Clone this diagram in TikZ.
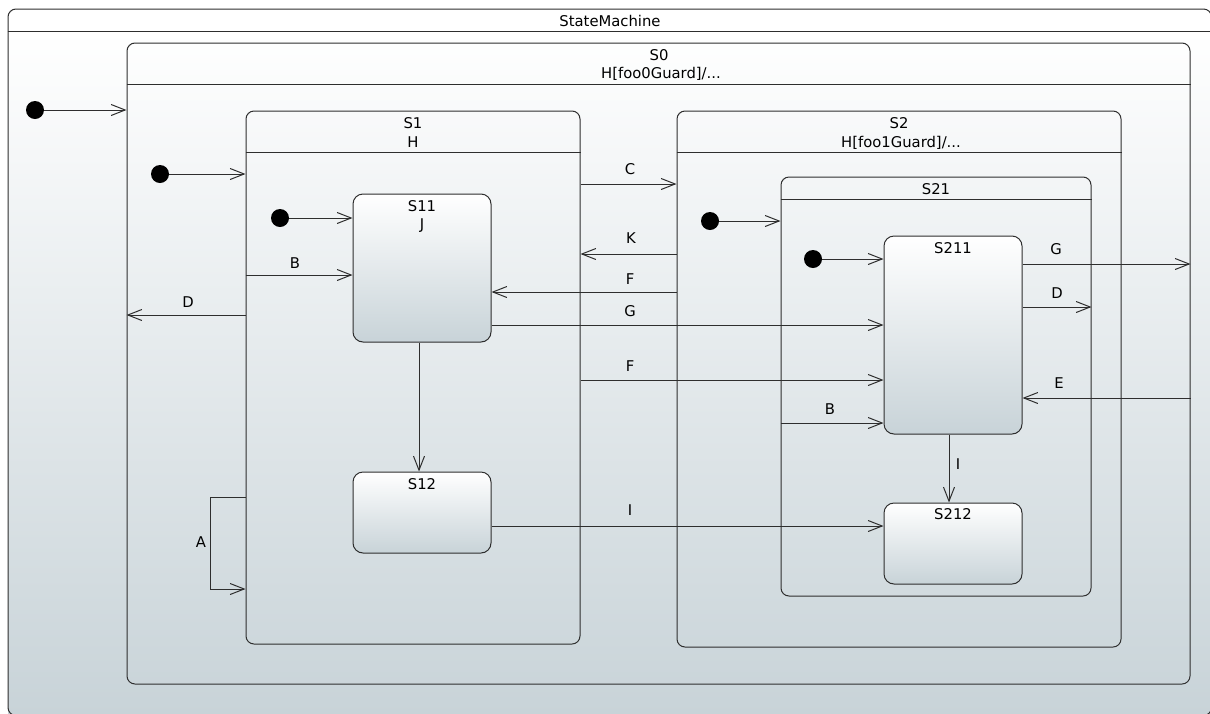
\documentclass[tikz,border=0pt]{standalone}
\usepackage{fontspec}
\setmainfont{DejaVu Sans}
\usetikzlibrary{arrows.meta,fit}
\definecolor{lo}{HTML}{C8D3D8}
\definecolor{ln}{HTML}{2E2E2E}
\tikzset{
  box/.style={draw=ln, line width=1pt, rounded corners=8pt, inner sep=0pt},
  leaf/.style={draw=ln, line width=1pt, rounded corners=10pt, inner sep=0pt, top color=white, bottom color=lo},
  tr/.style={draw=ln, line width=1pt, -{Straight Barb[length=14pt,width=11pt]}},
  plainline/.style={draw=ln, line width=1pt},
  lbl/.style={font=\fontsize{14.8}{17}\selectfont, anchor=base, inner sep=0pt, text=black},
  dot/.style={circle, fill=black, minimum size=18pt, inner sep=0pt},
}
\begin{document}
\begin{tikzpicture}[x=1pt,y=-1pt]
\useasboundingbox (0,0) rectangle (1210,713);
\clip (0,0) rectangle (1210,713);
\fill[white] (0,0) rectangle (1210,713);
\shade[top color=white, bottom color=lo] (8,31) rectangle (1211,715);

% containers
\node[box, fit={(8,9) (1211.5,715.5)}] (sm) {};
\node[box, fit={(127,43) (1190,684)}] (s0) {};
\node[box, fit={(246,111) (580,644)}] (s1) {};
\node[box, fit={(677,111) (1121,647)}] (s2) {};
\node[box, fit={(781,177) (1091,596)}] (s21) {};

% header lines
\coordinate (hsm) at (0,31);
\coordinate (h0) at (0,84);
\coordinate (h1) at (0,152);
\coordinate (h21) at (0,199);
\draw[plainline] (sm.west |- hsm) -- (sm.east |- hsm);
\draw[plainline] (s0.west |- h0) -- (s0.east |- h0);
\draw[plainline] (s1.west |- h1) -- (s1.east |- h1);
\draw[plainline] (s2.west |- h1) -- (s2.east |- h1);
\draw[plainline] (s21.west |- h21) -- (s21.east |- h21);

% leaf states
\node[leaf, fit={(353,194) (491,342)}] (s11) {};
\node[leaf, fit={(353,472) (491,553)}] (s12) {};
\node[leaf, fit={(884,236) (1022,434)}] (s211) {};
\node[leaf, fit={(884,503) (1022,584)}] (s212) {};

% initial pseudostates
\node[dot] (i0) at (35,110) {};
\node[dot] (i1) at (160,174) {};
\node[dot] (i11) at (280,218) {};
\node[dot] (i2) at (710,221) {};
\node[dot] (i21) at (813,259) {};

\draw[tr] (i0) -- (i0 -| s0.west);
\draw[tr] (i1) -- (i1 -| s1.west);
\draw[tr] (i11) -- (i11 -| s11.west);
\draw[tr] (i2) -- (i2 -| s21.west);
\draw[tr] (i21) -- (i21 -| s211.west);

% y levels
\coordinate (yB) at (0,275);
\coordinate (yD) at (0,315);
\coordinate (yA1) at (0,497);
\coordinate (yA2) at (0,589);
\coordinate (xI) at (419,0);
\coordinate (yC) at (0,184);
\coordinate (yK) at (0,254);
\coordinate (yF1) at (0,292);
\coordinate (yG1) at (0,325);
\coordinate (yF2) at (0,380);
\coordinate (yI) at (0,526);
\coordinate (yG2) at (0,264);
\coordinate (yD2) at (0,307);
\coordinate (yE) at (0,398);
\coordinate (yB2) at (0,423);
\coordinate (xI2) at (949,0);

% transitions
\draw[tr] (s1.west |- yB) -- (s11.west |- yB);
\draw[tr] (s1.west |- yD) -- (s0.west |- yD);
\draw[tr] (s1.west |- yA1) -- ++(-35,0) |- (s1.west |- yA2);
\draw[tr] (s11.south -| xI) -- (s12.north -| xI);
\draw[tr] (s1.east |- yC) -- (s2.west |- yC);
\draw[tr] (s2.west |- yK) -- (s1.east |- yK);
\draw[tr] (s2.west |- yF1) -- (s11.east |- yF1);
\draw[tr] (s11.east |- yG1) -- (s211.west |- yG1);
\draw[tr] (s1.east |- yF2) -- (s211.west |- yF2);
\draw[tr] (s12.east |- yI) -- (s212.west |- yI);
\draw[tr] (s211.east |- yG2) -- (s0.east |- yG2);
\draw[tr] (s211.east |- yD2) -- (s21.east |- yD2);
\draw[tr] (s0.east |- yE) -- (s211.east |- yE);
\draw[tr] (s21.west |- yB2) -- (s211.west |- yB2);
\draw[tr] (s211.south -| xI2) -- (s212.north -| xI2);

% state texts
\node[lbl] (tsm) at (610,26) {StateMachine};
\node[lbl] (t0a) at (659,60) {S0};
\node[lbl] (t0b) at (661,78) {H[foo0Guard]/...};
\node[lbl] (t1a) at (413,128) {S1};
\node[lbl] (t1b) at (413,147) {H};
\node[lbl] (t2a) at (899,128) {S2};
\node[lbl] (t2b) at (901,147) {H[foo1Guard]/...};
\node[lbl] (t21) at (936,194) {S21};
\node[lbl] (t11a) at (422,211) {S11};
\node[lbl] (t11b) at (422,229) {J};
\node[lbl] (t12) at (422,489) {S12};
\node[lbl] (t211) at (953,253) {S211};
\node[lbl] (t212) at (953,519) {S212};

% transition labels
\node[lbl] (lB) at (295,268) {B};
\node[lbl] (lD) at (188,307) {D};
\node[lbl] (lA) at (201,547) {A};
\node[lbl] (lC) at (630,174) {C};
\node[lbl] (lK) at (631,243) {K};
\node[lbl] (lF1) at (630,284) {F};
\node[lbl] (lG1) at (630,316) {G};
\node[lbl] (lF2) at (630,371) {F};
\node[lbl] (lI1) at (630,515) {I};
\node[lbl] (lG2) at (1056,254) {G};
\node[lbl] (lD2) at (1057,298) {D};
\node[lbl] (lE) at (1059,388) {E};
\node[lbl] (lB2) at (830,414) {B};
\node[lbl] (lI2) at (958,469) {I};
\end{tikzpicture}
\end{document}
